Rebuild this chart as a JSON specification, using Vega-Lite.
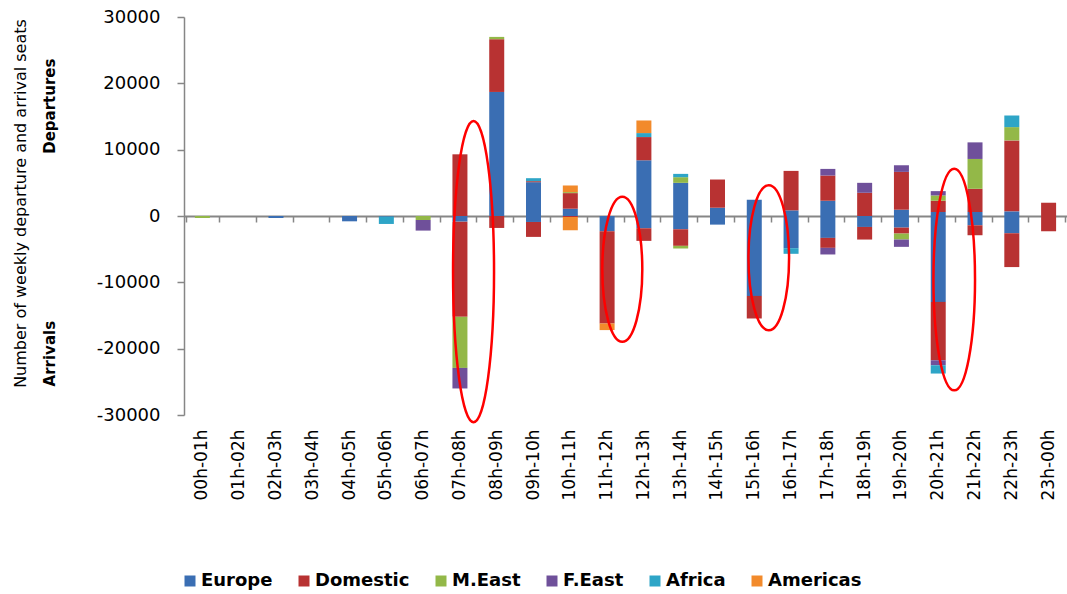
{
  "$schema": "https://vega.github.io/schema/vega-lite/v6.json",
  "width": 883,
  "height": 398,
  "autosize": {"type": "none"},
  "padding": {"left": 184, "top": 17, "right": 0, "bottom": 179},
  "background": "white",
  "config": {"view": {"stroke": null}, "font": "DejaVu Sans"},
  "datasets": {
    "regions": [
      {"region": "Europe", "rank": 1},
      {"region": "Domestic", "rank": 2},
      {"region": "M.East", "rank": 3},
      {"region": "F.East", "rank": 4},
      {"region": "Africa", "rank": 5},
      {"region": "Americas", "rank": 6}
    ],
    "flows": [
      {"hour": "00h-01h", "region": "M.East", "value": -300},
      {"hour": "02h-03h", "region": "Europe", "value": -300},
      {"hour": "04h-05h", "region": "Europe", "value": -800},
      {"hour": "05h-06h", "region": "Europe", "value": -100},
      {"hour": "05h-06h", "region": "Africa", "value": -1100},
      {"hour": "06h-07h", "region": "M.East", "value": -600},
      {"hour": "06h-07h", "region": "F.East", "value": -1600},
      {"hour": "07h-08h", "region": "Domestic", "value": 9300},
      {"hour": "07h-08h", "region": "Europe", "value": -850},
      {"hour": "07h-08h", "region": "Domestic", "value": -14350},
      {"hour": "07h-08h", "region": "M.East", "value": -7700},
      {"hour": "07h-08h", "region": "F.East", "value": -3100},
      {"hour": "08h-09h", "region": "Europe", "value": 18700},
      {"hour": "08h-09h", "region": "Domestic", "value": 7950},
      {"hour": "08h-09h", "region": "M.East", "value": 350},
      {"hour": "08h-09h", "region": "Domestic", "value": -1800},
      {"hour": "09h-10h", "region": "Europe", "value": 5100},
      {"hour": "09h-10h", "region": "Domestic", "value": 150},
      {"hour": "09h-10h", "region": "Africa", "value": 450},
      {"hour": "09h-10h", "region": "Europe", "value": -900},
      {"hour": "09h-10h", "region": "Domestic", "value": -2250},
      {"hour": "10h-11h", "region": "Europe", "value": 1100},
      {"hour": "10h-11h", "region": "Domestic", "value": 2350},
      {"hour": "10h-11h", "region": "M.East", "value": 150},
      {"hour": "10h-11h", "region": "Americas", "value": 1000},
      {"hour": "10h-11h", "region": "Domestic", "value": -150},
      {"hour": "10h-11h", "region": "Americas", "value": -2000},
      {"hour": "11h-12h", "region": "Europe", "value": -2300},
      {"hour": "11h-12h", "region": "Domestic", "value": -13900},
      {"hour": "11h-12h", "region": "Americas", "value": -1000},
      {"hour": "12h-13h", "region": "Europe", "value": 8400},
      {"hour": "12h-13h", "region": "Domestic", "value": 3500},
      {"hour": "12h-13h", "region": "Africa", "value": 600},
      {"hour": "12h-13h", "region": "Americas", "value": 1900},
      {"hour": "12h-13h", "region": "Europe", "value": -1850},
      {"hour": "12h-13h", "region": "Domestic", "value": -1900},
      {"hour": "13h-14h", "region": "Europe", "value": 5000},
      {"hour": "13h-14h", "region": "M.East", "value": 850},
      {"hour": "13h-14h", "region": "Africa", "value": 500},
      {"hour": "13h-14h", "region": "Europe", "value": -2000},
      {"hour": "13h-14h", "region": "Domestic", "value": -2500},
      {"hour": "13h-14h", "region": "M.East", "value": -400},
      {"hour": "14h-15h", "region": "Europe", "value": 1250},
      {"hour": "14h-15h", "region": "Domestic", "value": 4250},
      {"hour": "14h-15h", "region": "Europe", "value": -1300},
      {"hour": "15h-16h", "region": "Europe", "value": 2450},
      {"hour": "15h-16h", "region": "Europe", "value": -12050},
      {"hour": "15h-16h", "region": "Domestic", "value": -3400},
      {"hour": "16h-17h", "region": "Europe", "value": 850},
      {"hour": "16h-17h", "region": "Domestic", "value": 5950},
      {"hour": "16h-17h", "region": "Europe", "value": -4850},
      {"hour": "16h-17h", "region": "Africa", "value": -850},
      {"hour": "17h-18h", "region": "Europe", "value": 2300},
      {"hour": "17h-18h", "region": "Domestic", "value": 3800},
      {"hour": "17h-18h", "region": "F.East", "value": 1000},
      {"hour": "17h-18h", "region": "Europe", "value": -3300},
      {"hour": "17h-18h", "region": "Domestic", "value": -1500},
      {"hour": "17h-18h", "region": "F.East", "value": -1000},
      {"hour": "18h-19h", "region": "Domestic", "value": 3500},
      {"hour": "18h-19h", "region": "F.East", "value": 1500},
      {"hour": "18h-19h", "region": "Europe", "value": -1650},
      {"hour": "18h-19h", "region": "Domestic", "value": -1900},
      {"hour": "19h-20h", "region": "Europe", "value": 950},
      {"hour": "19h-20h", "region": "Domestic", "value": 5700},
      {"hour": "19h-20h", "region": "F.East", "value": 1000},
      {"hour": "19h-20h", "region": "Europe", "value": -1750},
      {"hour": "19h-20h", "region": "Domestic", "value": -900},
      {"hour": "19h-20h", "region": "M.East", "value": -900},
      {"hour": "19h-20h", "region": "F.East", "value": -1100},
      {"hour": "20h-21h", "region": "Europe", "value": 600},
      {"hour": "20h-21h", "region": "Domestic", "value": 1700},
      {"hour": "20h-21h", "region": "M.East", "value": 800},
      {"hour": "20h-21h", "region": "F.East", "value": 650},
      {"hour": "20h-21h", "region": "Europe", "value": -12950},
      {"hour": "20h-21h", "region": "Domestic", "value": -8800},
      {"hour": "20h-21h", "region": "F.East", "value": -750},
      {"hour": "20h-21h", "region": "Africa", "value": -1250},
      {"hour": "21h-22h", "region": "Europe", "value": 600},
      {"hour": "21h-22h", "region": "Domestic", "value": 3500},
      {"hour": "21h-22h", "region": "M.East", "value": 4500},
      {"hour": "21h-22h", "region": "F.East", "value": 2500},
      {"hour": "21h-22h", "region": "Europe", "value": -1400},
      {"hour": "21h-22h", "region": "Domestic", "value": -1500},
      {"hour": "22h-23h", "region": "Europe", "value": 700},
      {"hour": "22h-23h", "region": "Domestic", "value": 10700},
      {"hour": "22h-23h", "region": "M.East", "value": 2000},
      {"hour": "22h-23h", "region": "Africa", "value": 1750},
      {"hour": "22h-23h", "region": "Europe", "value": -2600},
      {"hour": "22h-23h", "region": "Domestic", "value": -5100},
      {"hour": "23h-00h", "region": "Domestic", "value": 2000},
      {"hour": "23h-00h", "region": "Domestic", "value": -2300}
    ],
    "ellipses": [
      {"hour": "07h-08h", "center": -8385, "id": "e1"},
      {"hour": "11h-12h", "center": -8040, "id": "e2"},
      {"hour": "15h-16h", "center": -6300, "id": "e3"},
      {"hour": "20h-21h", "center": -9580, "id": "e4"}
    ]
  },
  "layer": [
    {
      "data": {"name": "flows"},
      "transform": [
        {"lookup": "region", "from": {"data": {"name": "regions"}, "key": "region", "fields": ["rank"]}}
      ],
      "mark": {"type": "bar", "size": 15},
      "encoding": {
        "x": {
          "field": "hour",
          "type": "nominal",
          "scale": {"domain": ["00h-01h","01h-02h","02h-03h","03h-04h","04h-05h","05h-06h","06h-07h","07h-08h","08h-09h","09h-10h","10h-11h","11h-12h","12h-13h","13h-14h","14h-15h","15h-16h","16h-17h","17h-18h","18h-19h","19h-20h","20h-21h","21h-22h","22h-23h","23h-00h"]},
          "axis": {"orient": "bottom", "domain": false, "ticks": false, "labelAngle": -90, "labelFontSize": 17, "labelColor": "#000", "labelPadding": 14, "title": null}
        },
        "y": {
          "field": "value",
          "type": "quantitative",
          "stack": "zero",
          "scale": {"domain": [-30000, 30000], "nice": false},
          "axis": {
            "orient": "left",
            "values": [-30000, -20000, -10000, 0, 10000, 20000, 30000],
            "labelExpr": "'' + datum.value",
            "grid": false,
            "labelFontSize": 18,
            "labelColor": "#000",
            "domainColor": "#868686",
            "domainWidth": 1.5,
            "tickColor": "#868686",
            "tickWidth": 1.5,
            "tickSize": 7,
            "labelPadding": 17,
            "title": "Number of weekly departure and arrival seats",
            "titleFontSize": 16,
            "titleFontWeight": "normal",
            "titleColor": "#000",
            "titleX": -164,
            "titleY": 186,
            "titleBaseline": "middle"
          }
        },
        "order": {"field": "rank", "type": "quantitative", "sort": "ascending"},
        "color": {
          "field": "region",
          "type": "nominal",
          "sort": ["Europe", "Domestic", "M.East", "F.East", "Africa", "Americas"],
          "scale": {
            "domain": ["Europe", "Domestic", "M.East", "F.East", "Africa", "Americas"],
            "range": ["#3A6EB3", "#B83232", "#93B848", "#6F509A", "#2EA5C7", "#F28A2B"]
          },
          "legend": {
            "orient": "none",
            "legendX": -3,
            "legendY": 555,
            "direction": "horizontal",
            "title": null,
            "symbolType": "square",
            "symbolSize": 121,
            "symbolStrokeWidth": 0,
            "symbolOpacity": 1,
            "labelFontSize": 18,
            "labelFontWeight": "bold",
            "labelColor": "#000",
            "labelOffset": 2,
            "columnPadding": 22,
            "padding": 0
          }
        }
      }
    },
    {
      "data": {"name": "ellipses"},
      "mark": {"type": "point", "filled": false, "size": 4, "strokeWidth": 2.5, "color": "#FF0000", "opacity": 1},
      "encoding": {
        "x": {
          "field": "hour",
          "type": "nominal",
          "axis": {"orient": "bottom", "offset": -199, "labels": false, "domain": true, "domainColor": "#868686", "domainWidth": 2, "ticks": true, "tickBand": "extent", "tickColor": "#868686", "tickWidth": 1.5, "tickSize": 6, "title": null}
        },
        "y": {
          "field": "center",
          "type": "quantitative",
          "axis": {
            "orient": "left",
            "labels": false,
            "ticks": false,
            "domain": false,
            "grid": false,
            "title": "Arrivals\u00a0\u00a0\u00a0\u00a0\u00a0\u00a0\u00a0\u00a0\u00a0\u00a0\u00a0\u00a0\u00a0\u00a0\u00a0\u00a0\u00a0\u00a0\u00a0\u00a0\u00a0\u00a0\u00a0\u00a0\u00a0\u00a0\u00a0\u00a0\u00a0\u00a0\u00a0\u00a0Departures",
            "titleFontWeight": "bold",
            "titleFontSize": 15,
            "titleColor": "#000",
            "titleX": -135,
            "titleY": 205,
            "titleBaseline": "middle"
          }
        },
        "shape": {
          "field": "id",
          "type": "nominal",
          "scale": {
            "domain": ["e1", "e2", "e3", "e4"],
            "range": [
              "M -6.9 0 A 20.5 150.7 0 1 0 34.1 0 A 20.5 150.7 0 1 0 -6.9 0 Z",
              "M -4.8 0 A 20 72.5 0 1 0 35.2 0 A 20 72.5 0 1 0 -4.8 0 Z",
              "M -5.8 0 A 20.3 72.5 0 1 0 34.8 0 A 20.3 72.5 0 1 0 -5.8 0 Z",
              "M -4.8 0 A 20.8 110.8 0 1 0 36.8 0 A 20.8 110.8 0 1 0 -4.8 0 Z"
            ]
          },
          "legend": null
        }
      }
    }
  ],
  "resolve": {"axis": {"x": "independent", "y": "independent"}}
}
